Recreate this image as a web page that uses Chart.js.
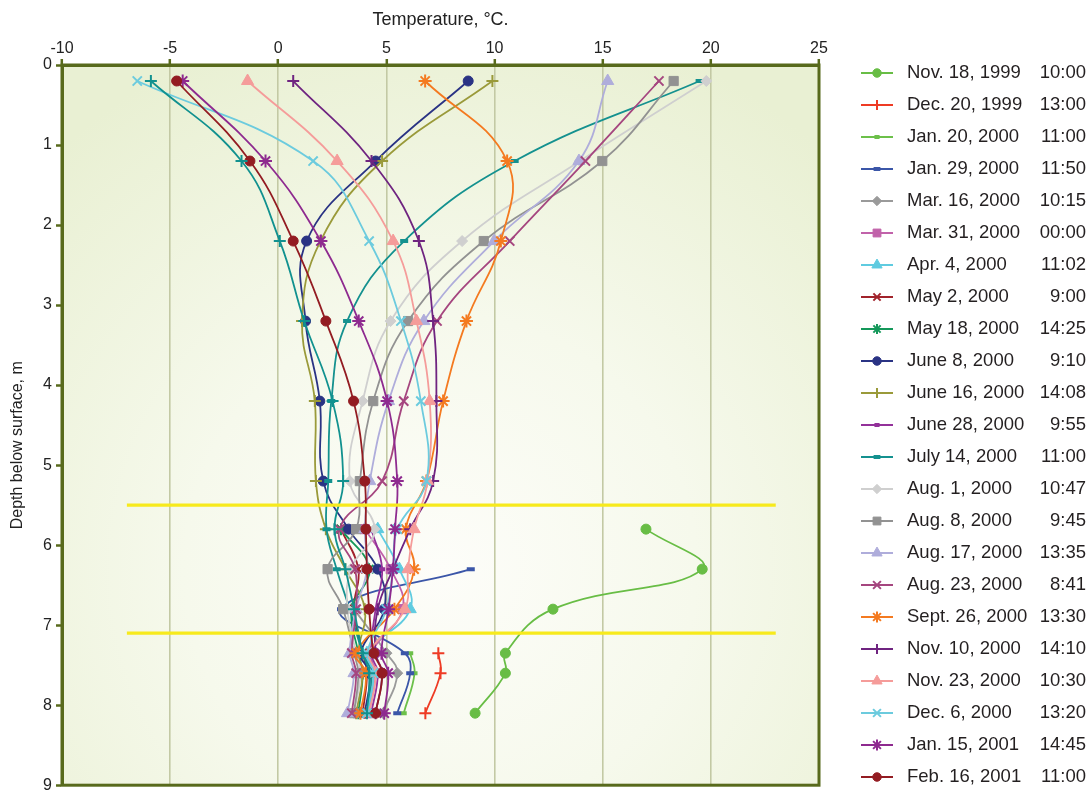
<!DOCTYPE html>
<html>
<head>
<meta charset="utf-8">
<script src="https://cdn.jsdelivr.net/npm/chart.js@4.4.1/dist/chart.umd.min.js"></script>
<style>
  html, body { margin: 0; padding: 0; background: #ffffff; overflow: hidden; }
  canvas { display: block; }
</style>
</head>
<body>
<canvas id="profile" width="1090" height="794"></canvas>
<script>
// Measurement depths (m below surface) shared by every temperature profile
const depths = [0.2, 1.2, 2.2, 3.2, 4.2, 5.2, 5.8, 6.3, 6.8, 7.35, 7.6, 8.1];
const _ = null; // no reading at that depth

// Temperature readings (°C), one value per depth
const nov18_1999 = [_, _, _, _, _, _, 17.0, 19.6, 12.7, 10.5, 10.5, 9.1];
const dec20_1999 = [_, _, _, _, _, _, _, _, _, 7.4, 7.5, 6.8];
const jan20_2000 = [_, _, _, _, _, _, _, _, _, 6.1, 6.3, 5.8];
const jan29_2000 = [_, _, _, _, _, _, _, 8.9, 2.9, 5.85, 6.1, 5.5];
const mar16_2000 = [_, _, _, _, _, _, _, _, 3.5, 5.0, 5.5, 4.85];
const mar31_2000 = [_, _, _, _, _, _, 4.0, 5.2, 5.75, 4.3, 4.5, 4.2];
const apr4_2000  = [_, _, _, _, _, _, 4.6, 5.6, 6.1, 4.1, 4.4, 4.15];
const may2_2000  = [_, _, _, _, _, _, 2.9, 3.7, 3.5, 3.9, 4.1, 3.9];
const may18_2000 = [_, _, _, _, _, _, 2.9, 4.2, 3.4, 3.7, 3.9, 3.7];
const jun8_2000  = [8.78, 4.5, 1.31, 1.26, 1.92, 2.08, 3.25, 4.6, 4.9, 3.8, 4.23, 4.0];
const jun16_2000 = [9.9, 4.8, 1.95, 1.1, 1.69, 1.74, 2.2, 3.1, 4.0, 3.7, 3.9, 3.6];
const jun28_2000 = [_, _, _, _, _, _, 4.3, 4.8, 4.5, 4.3, 4.6, 4.3];
const jul14_2000 = [19.48, 10.93, 5.82, 3.18, 2.45, 2.31, 2.23, 2.7, 3.3, 3.9, 4.3, 4.1];
const aug1_2000  = [19.79, 13.95, 8.5, 5.19, 3.9, 3.31, 4.45, 3.35, 3.2, 3.6, 3.8, 3.5];
const aug8_2000  = [18.28, 14.98, 9.5, 6.0, 4.39, 3.77, 3.6, 2.28, 3.0, 3.5, 3.7, 3.5];
const aug17_2000 = [15.23, 13.9, 9.98, 6.73, 5.1, 4.23, 4.0, 4.1, 3.6, 3.3, 3.5, 3.2];
const aug23_2000 = [17.6, 14.2, 10.7, 7.34, 5.8, 4.8, 2.83, 3.55, 3.6, 3.4, 3.6, 3.4];
const sep26_2000 = [6.79, 10.58, 10.29, 8.7, 7.62, 6.85, 5.9, 6.28, 5.37, 3.6, 4.05, 3.8];
const nov10_2000 = [0.69, 4.31, 6.5, 7.16, 7.31, 7.16, 6.1, 5.3, 4.6, 4.5, 4.8, 4.5];
const nov23_2000 = [-1.42, 2.72, 5.31, 6.39, 7.0, 6.9, 6.28, 6.0, 5.85, 4.2, 4.5, 4.2];
const dec6_2000  = [-6.52, 1.61, 4.2, 5.67, 6.59, 6.85, 5.5, 5.3, 5.0, 4.1, 4.4, 4.1];
const jan15_2001 = [-4.42, -0.59, 1.97, 3.72, 5.03, 5.5, 5.4, 5.3, 5.1, 4.77, 5.08, 4.9];
const feb16_2001 = [-4.7, -1.31, 0.69, 2.2, 3.48, 4.0, 4.05, 4.1, 4.2, 4.42, 4.8, 4.5];
const unlabeledProfile = [-5.89, -1.7, 0.07, 1.2, 2.51, 3.0, 2.6, 3.1, 3.5, 3.9, 4.2, 4.1];

// Legend text: survey date and time
const surveyDates = [
  'Nov. 18, 1999', 'Dec. 20, 1999', 'Jan. 20, 2000', 'Jan. 29, 2000', 'Mar. 16, 2000',
  'Mar. 31, 2000', 'Apr. 4, 2000', 'May 2, 2000', 'May 18, 2000', 'June 8, 2000',
  'June 16, 2000', 'June 28, 2000', 'July 14, 2000', 'Aug. 1, 2000', 'Aug. 8, 2000',
  'Aug. 17, 2000', 'Aug. 23, 2000', 'Sept. 26, 2000', 'Nov. 10, 2000', 'Nov. 23, 2000',
  'Dec. 6, 2000', 'Jan. 15, 2001', 'Feb. 16, 2001'
];
const surveyTimes = [
  '10:00', '13:00', '11:00', '11:50', '10:15', '00:00', '11:02', '9:00', '14:25', '9:10',
  '14:08', '9:55', '11:00', '10:47', '9:45', '13:35', '8:41', '13:30', '14:10', '10:30',
  '13:20', '14:45', '11:00'
];
const surveyTemps = [
  nov18_1999, dec20_1999, jan20_2000, jan29_2000, mar16_2000, mar31_2000, apr4_2000,
  may2_2000, may18_2000, jun8_2000, jun16_2000, jun28_2000, jul14_2000, aug1_2000,
  aug8_2000, aug17_2000, aug23_2000, sep26_2000, nov10_2000, nov23_2000, dec6_2000,
  jan15_2001, feb16_2001
];

// Reference depths marked by the yellow horizontal lines and their temperature span
const markerDepths = [5.5, 7.1];
const markerSpan = [-7, 23];

// Axis ranges and titles
const tempRange = [-10, 25];
const depthRange = [0, 9];
const tempTitle = 'Temperature, °C.';
const depthTitle = 'Depth below surface, m';

// Styles: [colour, point style, point radius, point border width]
const surveyStyles = [
  ['#68bd45', 'circle', 5, 1],
  ['#ee3b24', 'cross', 6, 2],
  ['#6cc04a', 'line', 3, 4],
  ['#3b56a8', 'line', 4, 4],
  ['#9a9a9a', 'rectRot', 5.5, 1],
  ['#c162aa', 'rect', 6.5, 1],
  ['#5fcbe0', 'triangle', 7, 1],
  ['#a1232b', 'crossRot', 6, 2],
  ['#14985a', 'star', 6, 2],
  ['#2a3384', 'circle', 5, 1],
  ['#9a9a3a', 'cross', 6, 2],
  ['#93319a', 'line', 3, 4],
  ['#14918f', 'line', 4, 4],
  ['#cfcfcf', 'rectRot', 5.5, 1],
  ['#929292', 'rect', 6.5, 1],
  ['#afaddb', 'triangle', 7, 1],
  ['#a5467f', 'crossRot', 6.5, 2],
  ['#f47a20', 'star', 6.5, 2],
  ['#6f2480', 'cross', 6, 2],
  ['#f59c9a', 'triangle', 7, 1],
  ['#6ccbde', 'crossRot', 6.5, 2],
  ['#8e2a8f', 'star', 6.5, 2],
  ['#931c22', 'circle', 5, 1]
];
const unlabeledStyle = ['#11918f', 'cross', 6, 2];

const FONT = '"Liberation Sans", Arial, sans-serif';
const OLIVE = '#586a1c';

const toPoints = temps => depths
  .map((d, i) => (temps[i] === null ? null : { x: temps[i], y: d }))
  .filter(p => p !== null);

function profileDataset(temps, style, order, legendRow, label) {
  const [color, pointStyle, radius, pbw] = style;
  return {
    label: label,
    legendRow: legendRow,
    data: toPoints(temps),
    showLine: true,
    tension: 0.42,
    borderColor: color,
    borderWidth: 1.8,
    pointStyle: pointStyle,
    pointRadius: radius,
    pointBorderWidth: pbw,
    pointBackgroundColor: color,
    pointBorderColor: color,
    order: order
  };
}

const datasets = [];
// yellow reference lines, drawn above the profiles
markerDepths.forEach(d => {
  datasets.push({
    label: '',
    data: markerSpan.map(t => ({ x: t, y: d })),
    showLine: true,
    borderColor: '#f7ea1c',
    borderWidth: 3.2,
    pointRadius: 0,
    order: -10
  });
});
surveyTemps.forEach((temps, i) => {
  datasets.push(profileDataset(temps, surveyStyles[i], 100 - i, i, surveyDates[i] + ' ' + surveyTimes[i]));
});
datasets.push(profileDataset(unlabeledProfile, unlabeledStyle, 50, null, ''));

// Plot background gradient, frame and the depth-axis title
const plotFrame = {
  id: 'plotFrame',
  beforeDraw(chart) {
    const { ctx, chartArea: a } = chart;
    const cx = a.left + a.width * 0.5;
    const cy = a.top + a.height * 0.7;
    const g = ctx.createRadialGradient(cx, cy, 0, cx, cy, a.width * 0.75);
    g.addColorStop(0, '#fdfdf9');
    g.addColorStop(0.45, '#f6f9ec');
    g.addColorStop(1, '#e9f0d3');
    ctx.save();
    ctx.fillStyle = g;
    ctx.fillRect(a.left, a.top, a.width, a.height);
    ctx.restore();
  },
  afterDraw(chart) {
    const { ctx, chartArea: a } = chart;
    ctx.save();
    ctx.strokeStyle = OLIVE;
    ctx.lineWidth = 3;
    ctx.strokeRect(a.left, a.top, a.width, a.height);
    ctx.translate(18, a.top + a.height * 0.528);
    ctx.rotate(-Math.PI / 2);
    ctx.fillStyle = '#222';
    ctx.font = '16px ' + FONT;
    ctx.textAlign = 'center';
    ctx.textBaseline = 'middle';
    ctx.fillText(depthTitle, 0, 0);
    ctx.restore();
  }
};

// Legend to the right of the plot: marker sample, date, right-aligned time
const sideLegend = {
  id: 'sideLegend',
  afterDraw(chart) {
    const { ctx, chartArea: a } = chart;
    const lineStart = a.right + 42;
    const lineEnd = lineStart + 32;
    const textX = lineEnd + 14;
    const timeX = chart.width - 4;
    const rowTop = a.top + 8;
    const rowStep = 32;
    chart.data.datasets.forEach(ds => {
      if (ds.legendRow === null || ds.legendRow === undefined) return;
      const row = ds.legendRow;
      const y = rowTop + rowStep * row;
      ctx.save();
      ctx.strokeStyle = ds.borderColor;
      ctx.lineWidth = 2;
      ctx.beginPath();
      ctx.moveTo(lineStart, y);
      ctx.lineTo(lineEnd, y);
      ctx.stroke();
      ctx.fillStyle = ds.pointBackgroundColor;
      ctx.strokeStyle = ds.pointBorderColor;
      ctx.lineWidth = ds.pointBorderWidth;
      Chart.helpers.drawPoint(ctx, {
        pointStyle: ds.pointStyle,
        radius: ds.pointRadius * 0.85,
        rotation: 0,
        borderWidth: ds.pointBorderWidth
      }, (lineStart + lineEnd) / 2, y);
      ctx.fillStyle = '#231f20';
      ctx.font = '18.5px ' + FONT;
      ctx.textBaseline = 'middle';
      ctx.textAlign = 'left';
      ctx.fillText(surveyDates[row], textX, y);
      ctx.textAlign = 'right';
      ctx.fillText(surveyTimes[row], timeX, y);
      ctx.restore();
    });
  }
};

Chart.defaults.font.family = FONT;
Chart.defaults.color = '#222222';

new Chart(document.getElementById('profile'), {
  type: 'scatter',
  data: { datasets },
  plugins: [plotFrame, sideLegend],
  options: {
    responsive: false,
    animation: false,
    events: [],
    layout: { padding: { left: 0, top: 0, right: 271, bottom: 6 } },
    plugins: { legend: { display: false }, tooltip: { enabled: false } },
    scales: {
      x: {
        type: 'linear',
        position: 'top',
        min: tempRange[0],
        max: tempRange[1],
        afterFit(scale) { scale.height = 65; },
        ticks: { stepSize: 5, font: { size: 16 }, color: '#222', padding: 1 },
        grid: {
          color: '#c3c9a4',
          lineWidth: 1.6,
          tickColor: OLIVE,
          tickLength: 6,
          tickWidth: 2.5
        },
        border: { color: OLIVE, width: 3 },
        title: {
          display: true,
          text: tempTitle,
          font: { size: 18 },
          color: '#222',
          padding: { top: 9, bottom: 0 }
        }
      },
      y: {
        type: 'linear',
        reverse: true,
        min: depthRange[0],
        max: depthRange[1],
        afterFit(scale) { scale.width = 62; },
        ticks: { stepSize: 1, font: { size: 16, lineHeight: 0.6 }, color: '#222', padding: 4 },
        grid: {
          drawOnChartArea: false,
          tickColor: OLIVE,
          tickLength: 6,
          tickWidth: 2.5
        },
        border: { color: OLIVE, width: 3 },
        title: { display: false }
      }
    }
  }
});
</script>
</body>
</html>
